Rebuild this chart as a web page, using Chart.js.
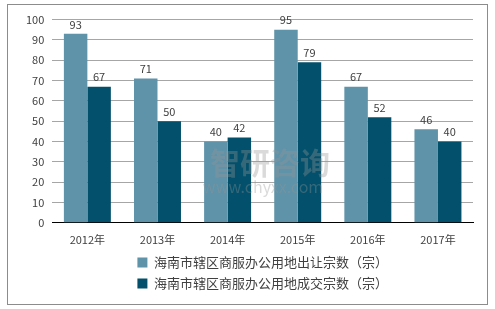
<!DOCTYPE html>
<html lang="zh">
<head>
  <meta charset="UTF-8">
  <title>海南市辖区商服办公用地</title>
  <script src="https://cdn.jsdelivr.net/npm/chart.js"></script>
  <style>
    body { margin: 0; background: #fff; }
    #box { position: absolute; left: 7px; top: 4px; width: 479px; height: 299px; border: 1px solid #8c8c8c; }
  </style>
</head>
<body>
  <div id="box"><canvas id="chart"></canvas></div>
  <script>
    const years = ['2012年', '2013年', '2014年', '2015年', '2016年', '2017年'];
    const chuRang = [93, 71, 40, 95, 67, 46];
    const chengJiao = [67, 50, 42, 79, 52, 40];
    const yTicks = [0, 10, 20, 30, 40, 50, 60, 70, 80, 90, 100];

    const font = '"Noto Sans CJK SC", "Noto Sans", sans-serif';

    // 柱顶数值
    const valueLabels = {
      id: 'valueLabels',
      afterDatasetsDraw(chart) {
        const ctx = chart.ctx;
        ctx.save();
        ctx.font = '11px ' + font;
        ctx.fillStyle = '#404040';
        ctx.textAlign = 'center';
        ctx.textBaseline = 'bottom';
        chart.data.datasets.forEach((ds, i) => {
          chart.getDatasetMeta(i).data.forEach((bar, j) => {
            ctx.fillText(ds.data[j], bar.x, bar.y - 4);
          });
        });
        ctx.restore();
      }
    };

    // 水印
    const watermark = {
      id: 'watermark',
      afterDraw(chart) {
        const ctx = chart.ctx;
        ctx.save();
        ctx.fillStyle = 'rgba(150,150,150,0.35)';
        ctx.textAlign = 'center';
        ctx.font = 'bold 30px ' + font;
        ctx.fillText('智研咨询', 262, 158);
        ctx.font = '16px ' + font;
        ctx.fillText('www.chyxx.com', 255, 182);
        ctx.restore();
      }
    };

    new Chart(document.getElementById('chart'), {
      type: 'bar',
      data: {
        labels: years,
        datasets: [
          { label: '海南市辖区商服办公用地出让宗数（宗）', data: chuRang, backgroundColor: '#5E93A9' },
          { label: '海南市辖区商服办公用地成交宗数（宗）', data: chengJiao, backgroundColor: '#02506B' }
        ]
      },
      options: {
        responsive: true,
        maintainAspectRatio: false,
        animation: false,
        layout: { padding: { left: 10, right: 14, top: 6, bottom: 4 } },
        datasets: { bar: { categoryPercentage: 0.67, barPercentage: 1 } },
        scales: {
          x: {
            grid: { display: false },
            border: { color: '#000', width: 1 },
            ticks: { color: '#404040', font: { size: 11, family: font }, padding: 2 }
          },
          y: {
            min: 0, max: 100,
            afterBuildTicks(axis) { axis.ticks = yTicks.map(v => ({ value: v })); },
            grid: { color: '#a6a6a6', tickLength: 0 },
            border: { display: false },
            ticks: { color: '#404040', font: { size: 11, family: font }, padding: 8 }
          }
        },
        plugins: {
          tooltip: { enabled: false },
          legend: {
            position: 'bottom',
            fullSize: false,
            labels: { boxWidth: 10, boxHeight: 10, color: '#404040', font: { size: 13, family: font }, padding: 8 }
          }
        }
      },
      plugins: [valueLabels, watermark]
    });
  </script>
</body>
</html>
